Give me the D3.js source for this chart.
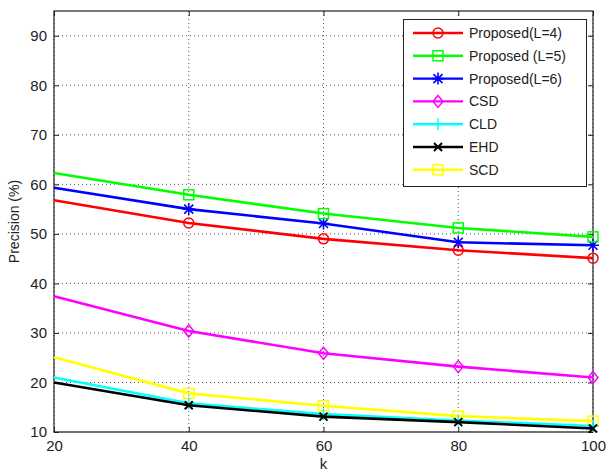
<!DOCTYPE html>
<html><head><meta charset="utf-8">
<script src="https://cdn.jsdelivr.net/npm/d3@7"></script>
<style>body{margin:0;background:#fff}svg{display:block;font-family:"Liberation Sans",Arial,sans-serif}</style>
</head><body>
<script>
const kValues = [20, 40, 60, 80, 100];
const seriesNames = ["Proposed(L=4)", "Proposed (L=5)", "Proposed(L=6)", "CSD", "CLD", "EHD", "SCD"];
const propL4 = [56.8, 52.2, 49.0, 46.7, 45.1];
const propL5 = [62.3, 57.9, 54.1, 51.2, 49.4];
const propL6 = [59.3, 55.0, 52.1, 48.3, 47.7];
const csd = [37.4, 30.4, 25.9, 23.2, 21.0];
const cld = [21.0, 15.8, 13.6, 12.3, 11.2];
const ehd = [20.0, 15.4, 13.1, 12.0, 10.7];
const scd = [25.1, 17.8, 15.3, 13.2, 12.2];
const yTicks = [10, 20, 30, 40, 50, 60, 70, 80, 90];
const xTicks = [20, 40, 60, 80, 100];
const colors = ["#ff0000", "#00ff00", "#0000ff", "#ff00ff", "#00ffff", "#000000", "#ffff00"];
const markers = ["circle", "square", "star", "diamond", "plus", "x", "square"];
const allValues = [propL4, propL5, propL6, csd, cld, ehd, scd];

const W = 606, H = 474;
const m = {l: 54, r: 13, t: 11, b: 42};
const svg = d3.select("body").append("svg").attr("width", W).attr("height", H);
const x = d3.scaleLinear().domain([20, 100]).range([m.l, W - m.r]);
const y = d3.scaleLinear().domain([10, 95]).range([H - m.b, m.t]);
const x0 = m.l, x1 = W - m.r, y0 = H - m.b, y1 = m.t;

// grid
const g = svg.append("g");
yTicks.forEach(v => {
  g.append("line").attr("x1", x0).attr("x2", x1).attr("y1", y(v)).attr("y2", y(v))
   .attr("stroke", "#555").attr("stroke-width", 1).attr("stroke-dasharray", "1,3");
});
xTicks.forEach(v => {
  g.append("line").attr("x1", x(v)).attr("x2", x(v)).attr("y1", y0).attr("y2", y1)
   .attr("stroke", "#555").attr("stroke-width", 1).attr("stroke-dasharray", "1,3");
});

// axes
const axB = svg.append("g").attr("transform", `translate(0,${y0})`)
  .call(d3.axisBottom(x).tickValues(xTicks).tickSizeInner(-5).tickSizeOuter(0).tickPadding(8));
const axL = svg.append("g").attr("transform", `translate(${x0},0)`)
  .call(d3.axisLeft(y).tickValues(yTicks).tickSizeInner(-5).tickSizeOuter(0).tickPadding(7));
const axT = svg.append("g").attr("transform", `translate(0,${y1})`)
  .call(d3.axisTop(x).tickValues(xTicks).tickSizeInner(-5).tickSizeOuter(0).tickFormat(""));
const axR = svg.append("g").attr("transform", `translate(${x1},0)`)
  .call(d3.axisRight(y).tickValues(yTicks).tickSizeInner(-5).tickSizeOuter(0).tickFormat(""));
[axB, axL, axT, axR].forEach(a => {
  a.select(".domain").remove();
  a.selectAll("line").attr("stroke", "#222");
  a.selectAll("text").attr("font-size", 15).attr("fill", "#222").attr("font-family", "Liberation Sans, Arial, sans-serif");
});
svg.append("rect").attr("x", x0).attr("y", y1).attr("width", x1 - x0).attr("height", y0 - y1)
  .attr("fill", "none").attr("stroke", "#222").attr("stroke-width", 1.2);

// labels
svg.append("text").attr("x", (x0 + x1) / 2).attr("y", 469).attr("text-anchor", "middle")
  .attr("font-size", 15).attr("fill", "#222").text("k");
svg.append("text").attr("transform", `translate(19,${(y0 + y1) / 2}) rotate(-90)`)
  .attr("text-anchor", "middle").attr("font-size", 14).attr("fill", "#222").text("Precision (%)");

function drawMarker(sel, type, cx, cy, color) {
  const s = 5;
  if (type === "circle") sel.append("circle").attr("cx", cx).attr("cy", cy).attr("r", s).attr("fill", "none").attr("stroke", color).attr("stroke-width", 1.5);
  else if (type === "square") sel.append("rect").attr("x", cx - s).attr("y", cy - s).attr("width", 2 * s).attr("height", 2 * s).attr("fill", "none").attr("stroke", color).attr("stroke-width", 1.5);
  else if (type === "diamond") sel.append("path").attr("d", `M${cx},${cy - 6}L${cx + 5},${cy}L${cx},${cy + 6}L${cx - 5},${cy}Z`).attr("fill", "none").attr("stroke", color).attr("stroke-width", 1.5);
  else if (type === "plus") sel.append("path").attr("d", `M${cx - 6},${cy}H${cx + 6}M${cx},${cy - 6}V${cy + 6}`).attr("stroke", color).attr("stroke-width", 1.5);
  else if (type === "x") sel.append("path").attr("d", `M${cx - 4},${cy - 4}L${cx + 4},${cy + 4}M${cx - 4},${cy + 4}L${cx + 4},${cy - 4}`).attr("stroke", color).attr("stroke-width", 2);
  else if (type === "star") sel.append("path").attr("d", `M${cx - 6},${cy}H${cx + 6}M${cx},${cy - 6}V${cy + 6}M${cx - 4.5},${cy - 4.5}L${cx + 4.5},${cy + 4.5}M${cx - 4.5},${cy + 4.5}L${cx + 4.5},${cy - 4.5}`).attr("stroke", color).attr("stroke-width", 1.6);
}

const line = d3.line().x((d, i) => x(kValues[i])).y(d => y(d));
const draworder = [6, 4, 5, 3, 0, 2, 1];
draworder.forEach(si => {
  const gs = svg.append("g");
  gs.append("path").attr("d", line(allValues[si])).attr("fill", "none")
    .attr("stroke", colors[si]).attr("stroke-width", 2.6);
  allValues[si].forEach((v, i) => { if (i > 0) drawMarker(gs, markers[si], x(kValues[i]), y(v), colors[si]); });
});

// legend
const lg = svg.append("g");
lg.append("rect").attr("x", 403.5).attr("y", 19.5).attr("width", 183).attr("height", 167)
  .attr("fill", "#fff").attr("stroke", "#222").attr("stroke-width", 1);
seriesNames.forEach((n, i) => {
  const ly = 33 + i * 22.8;
  lg.append("line").attr("x1", 413).attr("x2", 463).attr("y1", ly).attr("y2", ly)
    .attr("stroke", colors[i]).attr("stroke-width", 2.4);
  drawMarker(lg, markers[i], 438, ly, colors[i]);
  lg.append("text").attr("x", 469).attr("y", ly + 5).attr("font-size", 14).attr("fill", "#222").text(n);
});
</script>
</body></html>
